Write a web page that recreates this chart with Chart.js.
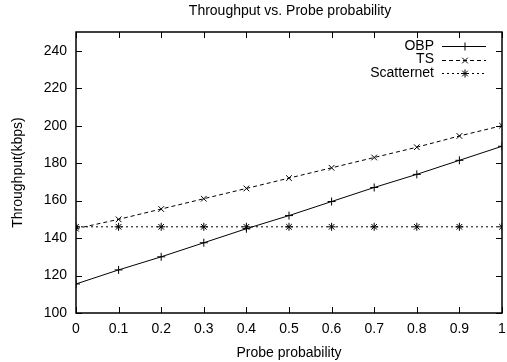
<!DOCTYPE html>
<html>
<head>
<meta charset="utf-8">
<script src="https://cdn.jsdelivr.net/npm/chart.js@4.4.0/dist/chart.umd.min.js"></script>
<style>
  html, body { margin: 0; padding: 0; background: #fff; }
  #wrap { width: 507px; height: 362px; }
</style>
</head>
<body>
<div id="wrap"><canvas id="myChart" width="507" height="362"></canvas></div>
<script>
// data
const probs = [0, 0.1, 0.2, 0.3, 0.4, 0.5, 0.6, 0.7, 0.8, 0.9, 1];
const obp = [115.5, 123, 130, 137.5, 145, 152, 159.5, 167, 174, 181.5, 189];
const ts = [145, 150, 155.5, 161, 166.5, 172, 177.5, 183, 188.5, 194.5, 200];
const scatternet = [146, 146, 146, 146, 146, 146, 146, 146, 146, 146, 146];
const yTicks = [100, 120, 140, 160, 180, 200, 220, 240];

const FONT = 'Liberation Sans, Arial, sans-serif';

function toPoints(vals) {
    return probs.map((p, i) => ({ x: p, y: vals[i] }));
}

const seriesInfo = [
    { label: 'OBP', data: obp, dash: [], point: 'cross' },
    { label: 'TS', data: ts, dash: [4, 3], point: 'crossRot' },
    { label: 'Scatternet', data: scatternet, dash: [2, 3], point: 'star' }
];

// frame, inward ticks, title and gnuplot style key
const gnuplotLook = {
    id: 'gnuplotLook',
    afterDraw(chart) {
        const { ctx, chartArea: a, scales } = chart;
        ctx.save();
        ctx.strokeStyle = '#000';
        ctx.lineWidth = 1.5;
        ctx.strokeRect(a.left, a.top, a.right - a.left, a.bottom - a.top);

        ctx.lineWidth = 1;
        ctx.beginPath();
        probs.forEach(p => {
            const x = Math.round(scales.x.getPixelForValue(p)) + 0.5;
            ctx.moveTo(x, a.bottom); ctx.lineTo(x, a.bottom - 6);
            ctx.moveTo(x, a.top); ctx.lineTo(x, a.top + 6);
        });
        yTicks.forEach(v => {
            const y = Math.round(scales.y.getPixelForValue(v)) + 0.5;
            ctx.moveTo(a.left, y); ctx.lineTo(a.left + 6, y);
            ctx.moveTo(a.right, y); ctx.lineTo(a.right - 6, y);
        });
        ctx.stroke();

        ctx.fillStyle = '#000';
        ctx.font = '14px ' + FONT;
        ctx.textAlign = 'center';
        ctx.textBaseline = 'middle';
        ctx.fillText('Throughput vs. Probe probability', 290, 11);

        // key
        ctx.textAlign = 'right';
        seriesInfo.forEach((s, i) => {
            const y = 46 + i * 13.5;
            ctx.fillText(s.label, 434, y);
            ctx.setLineDash(s.dash);
            ctx.beginPath();
            ctx.moveTo(442, Math.round(y) + 0.5);
            ctx.lineTo(486, Math.round(y) + 0.5);
            ctx.stroke();
            ctx.setLineDash([]);
            Chart.helpers.drawPoint(ctx, { pointStyle: s.point, radius: 4, borderWidth: 1 }, 465, Math.round(y) + 0.5);
        });
        ctx.restore();
    }
};

const ctx = document.getElementById('myChart').getContext('2d');
const myChart = new Chart(ctx, {
    type: 'line',
    data: {
        datasets: seriesInfo.map(s => ({
            label: s.label,
            data: toPoints(s.data),
            borderColor: '#000',
            backgroundColor: '#000',
            borderWidth: 1,
            borderDash: s.dash,
            pointStyle: s.point,
            pointRadius: 4,
            pointBorderWidth: 1,
            pointBorderColor: '#000',
            tension: 0,
            fill: false
        }))
    },
    options: {
        responsive: false,
        animation: false,
        layout: { padding: { top: 32, right: 3, left: 0, bottom: 0 } },
        plugins: { legend: { display: false }, tooltip: { enabled: false } },
        scales: {
            x: {
                type: 'linear',
                min: 0,
                max: 1,
                afterBuildTicks: axis => { axis.ticks = probs.map(v => ({ value: v })); },
                afterFit: axis => {
                    axis.height = 49;
                    axis.paddingLeft = 0;
                    axis.paddingRight = 0;
                },
                grid: { display: false, drawTicks: false },
                border: { display: false },
                ticks: {
                    color: '#000',
                    font: { family: FONT, size: 14 },
                    padding: 8,
                    maxRotation: 0,
                    callback: v => String(v)
                },
                title: {
                    display: true,
                    text: 'Probe probability',
                    color: '#000',
                    font: { family: FONT, size: 14 },
                    padding: { top: 4, bottom: 0 }
                }
            },
            y: {
                min: 100,
                max: 250,
                afterBuildTicks: axis => { axis.ticks = yTicks.map(v => ({ value: v })); },
                afterFit: axis => {
                    axis.width = 76;
                    axis.paddingTop = 0;
                    axis.paddingBottom = 0;
                },
                grid: { display: false, drawTicks: false },
                border: { display: false },
                ticks: {
                    color: '#000',
                    font: { family: FONT, size: 14 },
                    padding: 9
                },
                title: {
                    display: true,
                    text: 'Throughput(kbps)',
                    color: '#000',
                    font: { family: FONT, size: 14 },
                    padding: { top: 10, bottom: 0 }
                }
            }
        }
    },
    plugins: [gnuplotLook]
});
</script>
</body>
</html>
